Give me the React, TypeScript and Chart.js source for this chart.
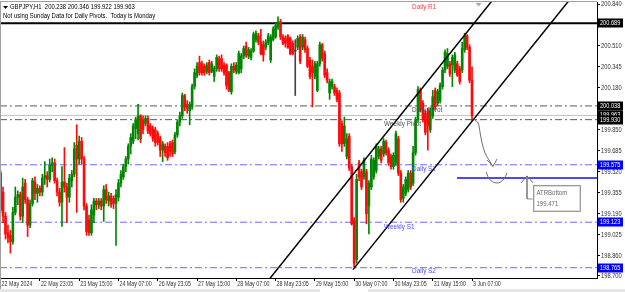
import React, { useEffect, useRef } from 'react';
import { Chart, registerables } from 'chart.js';
Chart.register(...registerables);

// ---- data ----
const symbolText = 'GBPJPY,H1  200.238 200.346 199.922 199.963';
const noteText = 'Not using Sunday Data for Daily Pivots.  Today is Monday';

const opens = [
  199.51,199.36,199.17,199.04,199.02,198.97,199.20,199.32,199.34,199.17,
  199.43,199.30,199.10,199.27,199.44,199.35,199.39,199.36,199.47,199.49,
  199.46,199.57,199.59,199.45,199.36,199.28,199.44,199.40,199.32,199.45,
  199.50,199.73,199.62,199.76,199.62,199.25,199.14,199.04,199.18,199.29,
  199.26,199.29,199.25,199.38,199.29,199.33,199.31,199.27,199.32,199.43,
  199.48,199.56,199.62,199.72,199.76,199.86,199.82,199.96,199.93,199.90,
  199.94,199.88,199.86,199.85,199.82,199.78,199.69,199.72,199.72,199.74,
  199.75,199.68,199.81,199.91,199.96,200.12,200.05,200.00,200.03,200.19,
  200.28,200.38,200.37,200.35,200.31,200.38,200.31,200.27,200.33,200.41,
  200.41,200.36,200.36,200.30,200.15,200.35,200.31,200.30,
  200.33,200.43,200.51,200.43,200.42,200.47,200.56,200.59,200.54,200.52,
  200.50,200.54,200.40,200.56,200.58,200.66,200.70,200.58,200.57,200.59,
  200.57,200.53,200.47,200.50,200.58,200.50,200.56,200.49,200.40,200.35,
  200.27,200.16,200.37,200.52,200.45,200.30,200.14,200.19,200.19,200.16,
  200.14,199.90,199.74,199.64,199.80,199.56,199.14,
  198.83,199.59,199.52,199.48,199.52,199.25,199.40,199.48,199.53,199.64,
  199.70,199.66,199.75,199.69,199.64,199.56,199.59,199.78,199.51,199.31,
  199.35,199.38,199.51,199.43,199.67,199.93,200.16,200.06,199.98,200.00,
  199.85,199.96,200.16,200.06,200.08,200.19,200.32,200.35,200.37,200.36,
  200.32,200.37,200.33,200.32,200.48,200.59,200.50,200.238
];
const highs = [
  199.53,199.40,199.20,199.10,199.06,199.24,199.40,199.37,199.36,199.47,
  199.46,199.32,199.30,199.47,199.48,199.42,199.41,199.50,199.60,199.52,
  199.62,199.63,199.62,199.47,199.39,199.56,199.71,199.43,199.50,199.53,
  199.75,199.89,199.80,199.79,199.64,199.27,199.18,199.26,199.31,199.31,
  199.31,199.31,199.41,199.42,199.36,199.35,199.33,199.38,199.46,199.53,
  199.58,199.64,199.74,199.82,199.90,199.95,200.05,199.97,199.96,199.96,
  199.96,199.90,199.88,199.87,199.84,199.80,199.76,199.74,199.75,199.76,
  199.77,199.83,199.93,199.99,200.14,200.13,200.08,200.07,200.21,200.33,
  200.38,200.43,200.39,200.37,200.38,200.40,200.39,200.35,200.44,200.43,
  200.44,200.38,200.37,200.31,200.37,200.38,200.38,200.47,
  200.45,200.51,200.54,200.50,200.49,200.62,200.63,200.61,200.64,200.55,
  200.56,200.61,200.60,200.66,200.69,200.74,200.72,200.60,200.59,200.60,
  200.58,200.55,200.56,200.59,200.60,200.60,200.58,200.51,200.42,200.40,
  200.39,200.39,200.54,200.53,200.47,200.33,200.25,200.25,200.21,200.18,
  200.16,199.92,199.95,199.82,199.82,199.58,199.16,
  199.50,199.61,199.54,199.63,199.54,199.45,199.65,199.63,199.74,199.72,
  199.72,199.78,199.77,199.71,199.66,199.67,199.84,199.80,199.53,199.42,
  199.48,199.53,199.53,199.72,199.95,200.19,200.18,200.08,200.00,200.02,
  200.02,200.16,200.18,200.17,200.22,200.34,200.48,200.49,200.39,200.44,
  200.46,200.39,200.35,200.54,200.61,200.60,200.52,200.346
];
const lows = [
  199.20,199.12,198.99,198.96,198.88,198.95,199.18,199.26,199.14,199.12,
  199.27,199.01,199.08,199.25,199.30,199.28,199.33,199.33,199.42,199.40,
  199.44,199.52,199.43,199.33,199.25,199.09,199.36,199.12,199.28,199.40,
  199.48,199.20,199.58,199.58,199.22,199.02,199.02,199.02,199.12,199.22,
  199.23,199.22,199.13,199.27,199.25,199.24,199.23,198.94,199.29,199.40,
  199.46,199.52,199.58,199.66,199.74,199.78,199.77,199.75,199.82,199.88,
  199.82,199.80,199.76,199.72,199.73,199.64,199.60,199.64,199.61,199.64,
  199.64,199.66,199.79,199.88,199.94,200.00,199.98,199.89,200.01,200.17,
  200.26,200.28,200.28,200.28,200.29,200.28,200.30,200.23,200.31,200.31,
  200.31,200.28,200.17,200.15,200.13,200.30,200.29,200.29,
  200.30,200.41,200.42,200.41,200.40,200.46,200.54,200.52,200.44,200.39,
  200.48,200.52,200.38,200.55,200.57,200.64,200.56,200.52,200.50,200.49,
  200.44,200.44,200.12,200.48,200.37,200.48,200.46,200.34,200.25,200.03,
  200.25,200.15,200.35,200.39,200.26,200.22,200.09,200.17,200.12,200.07,
  199.72,199.68,199.72,199.62,199.53,199.10,198.77,
  198.80,199.45,199.38,199.46,199.11,199.03,199.38,199.46,199.51,199.62,
  199.59,199.64,199.65,199.57,199.54,199.54,199.57,199.49,199.28,199.28,
  199.33,199.36,199.38,199.41,199.65,199.91,199.99,199.91,199.81,199.69,
  199.83,199.94,200.01,200.04,200.06,200.17,200.30,200.33,200.27,200.19,
  200.30,200.27,200.21,200.30,200.46,200.48,200.22,199.922
];
const closes = [
  199.22,199.17,199.03,199.00,198.97,199.20,199.32,199.34,199.17,199.40,
  199.30,199.10,199.27,199.45,199.35,199.39,199.36,199.47,199.49,199.46,
  199.57,199.59,199.45,199.36,199.28,199.44,199.40,199.32,199.47,199.50,
  199.70,199.62,199.76,199.62,199.25,199.05,199.04,199.22,199.29,199.26,
  199.29,199.25,199.38,199.30,199.33,199.26,199.27,199.34,199.43,199.50,
  199.56,199.62,199.72,199.79,199.88,199.93,199.96,199.78,199.85,199.94,
  199.84,199.82,199.78,199.75,199.75,199.69,199.74,199.67,199.63,199.68,
  199.66,199.81,199.91,199.96,200.12,200.03,200.02,200.05,200.19,200.30,
  200.35,200.30,200.30,200.30,200.36,200.30,200.37,200.33,200.42,200.33,
  200.33,200.30,200.20,200.16,200.35,200.32,200.36,200.45,
  200.43,200.49,200.44,200.48,200.47,200.60,200.61,200.54,200.45,200.44,
  200.54,200.59,200.58,200.64,200.67,200.70,200.58,200.53,200.53,200.50,
  200.45,200.45,200.47,200.57,200.39,200.58,200.48,200.35,200.27,200.30,
  200.37,200.37,200.52,200.41,200.28,200.24,200.23,200.23,200.14,200.09,
  199.74,199.74,199.88,199.78,199.55,199.11,198.80,
  199.46,199.48,199.40,199.61,199.19,199.43,199.62,199.61,199.72,199.70,
  199.61,199.76,199.67,199.59,199.56,199.65,199.82,199.51,199.30,199.40,
  199.46,199.51,199.40,199.67,199.93,200.17,200.01,199.93,199.83,199.88,
  200.00,200.11,200.03,200.15,200.20,200.32,200.46,200.45,200.29,200.42,
  200.44,200.28,200.23,200.49,200.59,200.50,200.24,199.963
];

const timeTickLabels = [
  '22 May 2024','22 May 23:05','23 May 15:00','24 May 07:00','26 May 23:05','27 May 15:00',
  '28 May 07:00','28 May 23:05','29 May 15:00','30 May 07:00','30 May 23:05','31 May 15:00','3 Jun 07:00'
];
const barsPerTimeTick = 16;
const priceTicks = [200.840,200.510,200.345,200.180,199.850,199.685,199.520,199.355,199.190,199.025,198.860,198.700];

const pivotNames = ['Daily R1','Daily Pivot','Weekly Pivot','Daily S1','Weekly S1','Daily S2'];
const pivotValues = [200.689,200.038,199.930,199.575,199.123,198.765];
const pivotLabelBar = [167.6,167.6,156.2,167.6,156.2,167.6];
const pivotLabelPrice = [200.816,200.006,199.896,199.542,199.086,198.739];
const bidPrice = 199.963;
const atrBottom = 199.471;
const atrStartBar = 185.9;

const channelUpper = [{ x: 108, y: 198.64 }, { x: 202, y: 200.91 }];
const channelLower = [{ x: 143.5, y: 198.75 }, { x: 232, y: 200.88 }];

const sketchDown = [[192.8,199.933],[194.5,199.904],[195.3,199.825],[196.1,199.746],[197.3,199.668],[199.4,199.597],[200.6,199.558]];
const sketchDownHead = [[198.1,199.613],[200.6,199.565],[202.2,199.621]];
const sketchCup = [[197.7,199.518],[199.4,199.455],[202.2,199.432],[204.6,199.455],[206.3,199.510]];
const sketchUpHead = [[212.0,199.432],[214.4,199.487],[216.9,199.432]];
const sketchCallout = [[214.4,199.487],[214.4,199.306],[216.7,199.306]];
const atrBoxAnchor = [216.7, 199.416];

const X_MIN = -0.244;
const X_MAX = 242.9;
const Y_MIN = 198.684;
const Y_MAX = 200.856;

const FONT = '"Liberation Sans", Arial, sans-serif';

function drawText(ctx: any, s: string, x: number, y: number, color: string, size: number, sx: number, align: any = 'left') {
  ctx.save();
  ctx.font = `${size}px ${FONT}`;
  ctx.fillStyle = color;
  ctx.textBaseline = 'middle';
  ctx.textAlign = align;
  ctx.translate(x, y);
  ctx.scale(sx, 1);
  ctx.fillText(s, 0, 0);
  ctx.restore();
}

export default function App() {
  const ref = useRef<HTMLCanvasElement>(null);
  useEffect(() => {
    const canvas = ref.current!;
    const bull = 'rgb(0,135,0)';
    const bear = 'rgb(255,10,10)';
    const doji = 'rgb(70,70,70)';
    const colors = opens.map((o, i) => (Math.abs(closes[i] - o) < 0.004 ? doji : closes[i] > o ? bull : bear));
    const hLine = (v: number, x0 = X_MIN) => [{ x: x0, y: v }, { x: X_MAX, y: v }];
    const pts = (arr: number[][]) => arr.map(p => ({ x: p[0], y: p[1] }));
    const lineDs = (data: any[], color: string, width: number, dash: number[], order: number, tension = 0) => ({
      type: 'line', data, borderColor: color, borderWidth: width, borderDash: dash,
      pointRadius: 0, fill: false, tension, order
    });
    const dashDot = [7, 3, 2, 3];
    const pivotStyles: any[] = [
      ['#000000', 2, []], ['#5a5a5a', 1, dashDot], ['#5a5a5a', 1, dashDot],
      ['#6a6aff', 1, dashDot], ['#6a6aff', 1, dashDot], ['#6a6aff', 1, dashDot]
    ];

    const datasets: any[] = [
      {
        type: 'bar', label: 'wick', data: lows.map((l, i) => ({ x: i, y: [l, highs[i]] })),
        backgroundColor: colors, barThickness: 1, grouped: false, order: 3, borderWidth: 0
      },
      {
        type: 'bar', label: 'body', data: opens.map((o, i) => ({ x: i, y: [o, closes[i]] })),
        backgroundColor: colors, barThickness: 2, minBarLength: 1, grouped: false, order: 2, borderWidth: 0
      },
      ...pivotValues.map((v, k) => lineDs(hLine(v), pivotStyles[k][0], pivotStyles[k][1], pivotStyles[k][2], 4)),
      lineDs(hLine(bidPrice), '#c4c4c4', 1, [], 5),
      lineDs(hLine(atrBottom, atrStartBar), '#1010e0', 1.5, [], 1),
      lineDs(channelUpper, '#000000', 1.5, [], 0),
      lineDs(channelLower, '#000000', 1.5, [], 0),
      lineDs(pts(sketchDown), '#6e6e6e', 1, [], 0, 0.3),
      lineDs(pts(sketchDownHead), '#6e6e6e', 1, [], 0),
      lineDs(pts(sketchCup), '#6e6e6e', 1, [], 0, 0.4),
      lineDs(pts(sketchUpHead), '#6e6e6e', 1, [], 0),
      lineDs(pts(sketchCallout), '#8a8a8a', 1, [], 0)
    ];

    const mt4Plugin = {
      id: 'mt4',
      beforeDraw(chart: any) {
        const { ctx, width, height } = chart;
        ctx.save();
        ctx.fillStyle = '#ffffff';
        ctx.fillRect(0, 0, width, height);
        ctx.restore();
      },
      afterDraw(chart: any) {
        const ctx = chart.ctx;
        const xs = chart.scales.x;
        const ys = chart.scales.y;
        const ca = chart.chartArea;
        ctx.save();
        // frame
        ctx.strokeStyle = '#a0a0a0';
        ctx.lineWidth = 1;
        ctx.beginPath();
        ctx.moveTo(0, 1.5); ctx.lineTo(ca.right, 1.5);
        ctx.moveTo(0.5, 1); ctx.lineTo(0.5, 289);
        ctx.stroke();
        ctx.fillStyle = '#e6e6e6';
        ctx.fillRect(0, 289, chart.width, 3);
        ctx.fillStyle = '#ffffff';
        ctx.fillRect(320, 289, 48, 3);

        // header
        ctx.fillStyle = '#000';
        ctx.beginPath();
        ctx.moveTo(3, 6); ctx.lineTo(8, 6); ctx.lineTo(5.5, 9); ctx.closePath();
        ctx.fill();
        drawText(ctx, symbolText, 10, 7.5, '#000', 7, 0.84);
        drawText(ctx, noteText, 3, 16, '#000', 7, 0.85);

        // chart shift marker
        const sx = xs.getPixelForValue(194.7);
        ctx.fillStyle = '#a8a8a8';
        ctx.beginPath();
        ctx.moveTo(sx - 3, 3); ctx.lineTo(sx + 3, 3); ctx.lineTo(sx, 6.5); ctx.closePath();
        ctx.fill();

        // pivot labels
        const pivotColors = ['#ee4040', '#505050', '#505050', '#4a4aee', '#4a4aee', '#4a4aee'];
        pivotNames.forEach((n, k) => {
          drawText(ctx, n, xs.getPixelForValue(pivotLabelBar[k]), ys.getPixelForValue(pivotLabelPrice[k]), pivotColors[k], 6.6, 0.97);
        });

        // ATR box
        const bx = Math.round(xs.getPixelForValue(atrBoxAnchor[0])) + 0.5;
        const by = Math.round(ys.getPixelForValue(atrBoxAnchor[1])) + 0.5;
        ctx.fillStyle = '#ffffff';
        ctx.fillRect(bx, by, 47, 26);
        ctx.strokeStyle = '#9a9a9a';
        ctx.strokeRect(bx, by, 47, 26);
        ctx.strokeStyle = '#dcdcdc';
        ctx.strokeRect(bx + 1, by + 1, 45, 24);
        drawText(ctx, 'ATRBottom', bx + 3, by + 8, '#666', 7, 0.86);
        drawText(ctx, atrBottom.toFixed(3), bx + 3, by + 19, '#666', 7, 0.86);

        // y tick labels
        ys.ticks.forEach((t: any) => {
          drawText(ctx, Number(t.value).toFixed(3), ca.right + 4, ys.getPixelForValue(t.value), '#333', 7, 0.82);
        });
        // x tick labels
        xs.ticks.forEach((t: any) => {
          const k = Math.round(t.value / barsPerTimeTick);
          drawText(ctx, timeTickLabels[k], xs.getPixelForValue(t.value) + 1, ca.bottom + 6, '#333', 7, 0.76);
        });

        // price tags
        const tags: any[] = [
          [pivotValues[0], '#000'], [pivotValues[1], '#000'], [bidPrice, '#000'], [pivotValues[2], '#000'],
          [pivotValues[3], '#0000ff'], [pivotValues[4], '#0000ff'], [pivotValues[5], '#0000ff']
        ];
        tags.forEach(([v, c]) => {
          const y = ys.getPixelForValue(v);
          ctx.fillStyle = c;
          ctx.fillRect(ca.right + 1, Math.round(y) - 4.5, 25, 9);
          drawText(ctx, v.toFixed(3), ca.right + 3, y, '#fff', 7, 0.8);
        });
        ctx.restore();
      }
    };

    const chart = new Chart(canvas, {
      type: 'bar',
      data: { datasets },
      options: {
        animation: false,
        responsive: true,
        maintainAspectRatio: false,
        devicePixelRatio: 1,
        layout: { padding: { top: 2, left: 0, right: 0, bottom: 0 } },
        plugins: { legend: { display: false }, tooltip: { enabled: false } },
        scales: {
          x: {
            type: 'linear', min: X_MIN, max: X_MAX, offset: false,
            grid: { display: true, drawOnChartArea: false, drawTicks: true, tickLength: 3, color: '#000', offset: false },
            border: { display: true, color: '#000', width: 1 },
            ticks: { display: false },
            afterBuildTicks: (s: any) => { s.ticks = timeTickLabels.map((_, k) => ({ value: k * barsPerTimeTick })); },
            afterFit: (s: any) => { s.height = 14; }
          },
          y: {
            type: 'linear', position: 'right', min: Y_MIN, max: Y_MAX,
            grid: { display: true, drawOnChartArea: false, drawTicks: true, tickLength: 3, color: '#000' },
            border: { display: true, color: '#000', width: 1 },
            ticks: { display: false },
            afterBuildTicks: (s: any) => { s.ticks = priceTicks.map(v => ({ value: v })); },
            afterFit: (s: any) => { s.width = 28; }
          }
        }
      } as any,
      plugins: [mt4Plugin]
    } as any);
    return () => chart.destroy();
  }, []);

  return (
    <div style={{ position: 'fixed', left: 0, top: 0, width: 625, height: 292, background: '#fff' }}>
      <canvas ref={ref} />
    </div>
  );
}
